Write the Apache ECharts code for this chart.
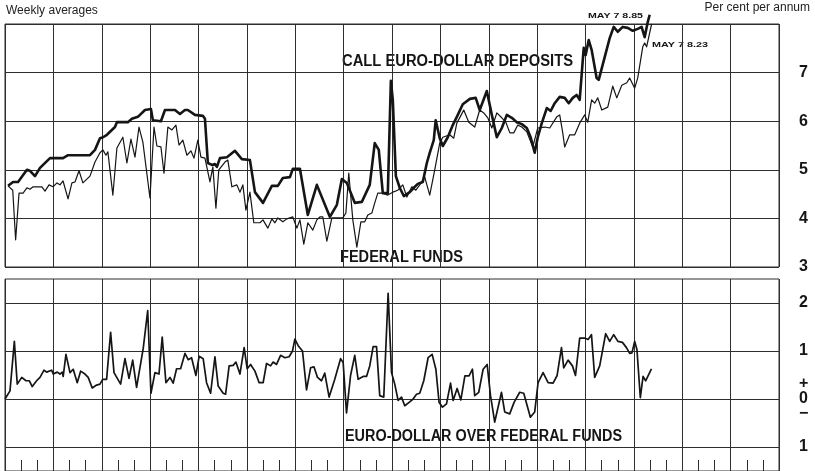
<!DOCTYPE html>
<html>
<head>
<meta charset="utf-8">
<script src="https://cdn.jsdelivr.net/npm/echarts@6/dist/echarts.min.js"></script>
<style>
  html, body { margin: 0; padding: 0; background: #fff; }
  #chart { width: 815px; height: 471px; }
</style>
</head>
<body>
<div id="chart"></div>
<script>
// x values are months counted from the start of January 1966 (weekly averages)
const euroMonths = [0.19,0.5,0.81,1.36,1.55,1.86,2.17,2.79,3.6,3.91,
  5.27,5.58,5.89,6.08,6.32,6.82,6.94,7.62,7.87,8.24,
  8.68,9.05,9.17,9.67,9.92,10.54,10.85,11.16,11.34,11.78,
  12.27,12.4,12.58,12.83,13.02,13.14,13.33,13.76,14.26,14.69,
  15.19,15.5,16,16.55,16.92,17.23,17.67,17.85,18.29,18.78,
  19.34,20.15,20.58,20.89,21.2,21.69,22.13,22.62,22.93,23.18,
  23.43,23.74,23.93,24.05,24.24,24.48,24.73,25.1,25.35,25.6,
  25.91,26.16,26.34,26.59,26.71,26.96,27.15,27.46,27.77,28.08,
  28.39,28.83,29.19,29.44,29.88,30.19,30.5,30.81,31.12,31.43,
  31.74,32.05,32.36,32.6,32.85,33.04,33.29,33.6,33.84,34.09,
  34.4,34.71,34.96,35.21,35.45,35.64,35.89,36.01,36.2,36.38,
  36.69,36.82,37.19,37.5,37.75,38,38.31,38.62,38.93,39.24,
  39.48,39.67,39.86,39.98];
const euroRates = [4.67,4.75,4.75,5.0,4.98,4.87,5.04,5.24,5.24,5.30,
  5.30,5.41,5.65,5.67,5.72,5.88,5.98,5.98,6.05,6.09,
  6.23,6.25,6.02,6.0,6.23,6.23,6.15,6.23,6.23,6.13,
  6.11,6.05,5.14,5.10,5.12,5.06,5.24,5.26,5.39,5.22,
  5.20,4.54,4.32,4.67,4.67,4.83,4.85,5.02,5.02,4.07,
  4.69,4.03,4.28,4.81,4.73,4.32,4.34,4.69,5.55,5.41,
  4.52,4.52,6.83,6.44,4.87,4.63,4.46,4.54,4.63,4.71,
  4.75,5.14,5.35,5.61,6.02,5.65,5.49,5.67,5.92,6.13,
  6.35,6.46,6.48,6.23,6.62,6.13,5.67,5.86,6.13,6.07,
  5.98,5.94,5.86,5.67,5.35,5.67,5.96,6.27,6.21,6.37,
  6.50,6.48,6.37,6.48,6.54,6.44,7.51,7.36,7.67,7.47,
  6.89,6.85,7.32,7.71,7.94,7.84,7.94,7.92,7.86,7.90,
  7.94,7.73,8.04,8.19];

const fedMonths = [0.19,0.48,0.66,0.87,1.12,1.36,1.55,1.74,2.29,2.48,
  2.73,2.98,3.22,3.41,3.6,3.91,4.15,4.34,4.59,4.83,
  5.27,5.58,5.89,6.07,6.26,6.38,6.69,6.94,7.31,7.56,
  7.81,8.06,8.31,8.55,8.99,9.24,9.42,9.67,9.86,10.1,
  10.35,10.6,10.79,11.03,11.28,11.53,11.72,11.96,12.15,12.4,
  12.71,12.89,13.08,13.26,13.64,13.82,14.07,14.38,14.57,14.75,
  14.94,15.19,15.43,15.81,16.0,16.3,16.55,16.74,16.92,17.23,
  17.48,17.85,18.1,18.29,18.53,18.78,19.09,19.34,19.53,19.71,
  19.96,20.27,20.95,21.14,21.32,21.57,21.82,22.07,22.31,22.5,
  22.75,22.93,23.12,23.43,23.74,24.05,24.36,24.67,24.92,25.23,
  25.48,25.72,26.03,26.34,26.65,26.96,27.15,27.58,27.83,28.02,
  28.26,28.45,28.76,29.13,29.44,29.69,29.94,30.19,30.5,30.81,
  31.06,31.31,31.55,31.8,32.05,32.36,32.73,33.04,33.48,33.78,
  34.22,34.4,34.59,34.71,35.02,35.33,35.64,35.95,36.14,36.38,
  36.57,36.76,37.01,37.38,37.69,37.94,38.25,38.56,38.74,39.05,
  39.24,39.55,39.67,39.79,40.1];
const fedRates = [4.67,4.58,3.56,4.52,4.52,4.63,4.60,4.65,4.65,4.56,
  4.69,4.65,4.73,4.69,4.77,4.40,4.73,4.75,4.98,4.73,
  4.87,5.16,5.35,5.41,5.30,5.37,4.48,5.45,5.67,5.14,
  5.63,5.26,5.88,5.57,4.42,5.88,5.49,5.47,4.93,5.88,
  5.82,5.92,5.51,5.61,5.30,5.39,5.24,5.61,5.26,5.24,
  4.75,5.06,4.21,5.0,5.16,5.20,4.65,4.69,4.54,4.69,
  4.17,4.54,3.91,3.91,3.97,3.80,3.99,3.91,4.01,3.93,
  3.99,4.03,3.80,3.97,3.47,3.91,3.76,3.97,4.03,4.03,
  3.53,4.01,4.01,4.11,4.93,3.97,3.41,3.93,3.93,4.07,
  4.11,4.32,4.52,4.52,4.48,4.54,4.58,4.69,4.44,4.65,
  4.58,4.69,4.85,4.48,5.0,5.55,5.67,5.72,5.65,5.96,
  6.11,6.23,5.98,5.88,6.23,6.17,6.07,5.86,6.17,6.07,
  5.98,5.76,5.76,5.92,5.88,5.78,5.47,5.86,5.88,5.86,
  6.09,6.13,5.76,5.47,5.72,5.72,5.96,6.13,5.98,6.44,
  6.37,6.48,6.23,6.29,6.72,6.48,6.74,6.79,6.89,6.68,
  6.89,7.53,7.61,7.53,8.0];

const spreadMonths = [0,0.31,0.58,0.76,1.04,1.30,1.51,1.69,1.96,2.17,
  2.42,2.58,2.89,2.99,3.24,3.41,3.55,3.61,3.78,4.03,
  4.23,4.48,4.69,4.96,5.16,5.41,5.68,5.89,6.06,6.3,
  6.55,6.76,7.17,7.44,7.69,7.92,8.16,8.57,8.85,9.05,
  9.3,9.55,9.75,9.98,10.23,10.43,10.64,10.89,11.16,11.36,
  11.57,11.84,12.04,12.29,12.5,12.75,13.02,13.22,13.53,13.68,
  13.9,14.15,14.32,14.57,14.83,15.02,15.23,15.5,15.76,16.01,
  16.22,16.47,16.63,16.84,17.09,17.36,17.62,17.83,17.98,18.18,
  18.45,18.7,18.95,19.16,19.38,19.63,19.83,20.1,20.45,20.81,
  20.97,21.18,21.43,21.69,21.9,22.21,22.42,22.62,22.83,23.04,
  23.24,23.49,23.76,23.97,24.17,24.38,24.59,24.79,25.1,25.31,
  25.52,25.72,25.97,26.24,26.49,26.72,26.92,27.13,27.38,27.63,
  27.79,28.04,28.27,28.52,28.78,28.99,29.13,29.38,29.65,29.9,
  30.11,30.37,30.79,30.99,31.3,31.57,31.92,32.17,32.44,32.58,
  32.85,33.06,33.37,33.68,33.99,34.24,34.51,34.65,34.92,35.19,
  35.38,35.64,35.95,36.16,36.37,36.57,36.88,37.25,37.5,37.75,
  38.01,38.29,38.54,38.74,38.88,39.05,39.19,39.4,39.57,39.73,
  40.09];
const spreadValues = [0.0,0.17,1.20,0.31,0.45,0.38,0.38,0.26,0.38,0.45,
  0.60,0.56,0.60,0.52,0.56,0.52,0.56,0.47,0.93,0.55,
  0.62,0.34,0.58,0.52,0.45,0.23,0.29,0.31,0.41,0.41,
  1.39,0.55,0.31,0.84,0.43,0.81,0.24,1.05,1.84,0.12,
  0.55,0.52,1.29,0.34,0.45,0.33,0.63,0.63,0.95,0.82,
  0.86,0.49,0.89,0.84,0.34,0.12,0.88,0.27,0.12,0.10,
  0.69,0.70,0.77,0.52,1.07,0.63,0.72,0.58,0.34,0.34,
  0.74,0.69,0.77,0.72,0.91,0.86,0.88,1.0,1.25,1.11,
  1.0,0.19,0.65,0.67,0.45,0.38,0.54,0.04,0.41,0.84,
  0.76,-0.29,0.49,0.91,0.41,0.47,0.47,0.69,1.09,1.09,
  0.07,0.04,2.20,0.55,0.31,-0.03,0.04,-0.14,-0.06,0.0,
  0.10,0.12,0.38,0.86,0.93,0.62,-0.07,-0.17,-0.10,0.33,
  -0.03,0.22,-0.02,0.48,0.48,0.62,0.07,0.14,0.62,0.72,
  0.07,-0.48,0.14,-0.27,-0.31,-0.07,0.14,0.12,-0.21,-0.38,
  -0.27,0.34,0.55,0.34,0.33,0.49,1.07,0.65,0.81,0.69,
  0.49,1.27,1.27,1.24,1.34,0.45,0.69,1.36,1.20,1.34,
  1.20,1.18,1.07,0.95,0.96,1.20,1.03,0.03,0.47,0.38,
  0.63];

// right-hand tick labels
const rateLabels = { 3: '3', 4: '4', 5: '5', 6: '6', 7: '7' };
const spreadLabels = { 2: '2', 1: '1', 0: '+\n0\n\u2212', '-1': '1' };

function pairs(xs, ys) {
  return xs.map((x, i) => [x, ys[i]]);
}

const ink = '#151515';
const gridInk = '#2e2e2e';
const boldFont = 'bold 16px "Liberation Sans", Arial, sans-serif';
const smallFont = 'bold 8px "Liberation Sans", Arial, sans-serif';

// squeeze labels horizontally to the width they take in the original
const measure = document.createElement('canvas').getContext('2d');
function squeeze(text, font, width) {
  measure.font = font;
  return width / measure.measureText(text).width;
}

function label(text, font, x, y, width) {
  return {
    type: 'text', x: x, y: y, scaleX: squeeze(text, font, width), silent: true,
    style: { text: text, font: font, fill: ink, textAlign: 'left', textVerticalAlign: 'middle' }
  };
}

const chart = echarts.init(document.getElementById('chart'), null, { renderer: 'canvas' });

const option = {
  animation: false,
  backgroundColor: '#fff',
  grid: [
    { left: 5, top: 24, width: 774, height: 243, show: true, borderColor: gridInk, borderWidth: 1 },
    { left: 5, top: 279, width: 774, height: 193.5, show: true, borderColor: gridInk, borderWidth: 1 }
  ],
  xAxis: [
    {
      gridIndex: 0, type: 'value', min: 0, max: 48, interval: 3,
      axisLine: { show: false, onZero: false }, axisTick: { show: false }, axisLabel: { show: false },
      splitLine: { show: true, lineStyle: { color: gridInk, width: 1 } }
    },
    {
      gridIndex: 1, type: 'value', min: 0, max: 48, interval: 3, position: 'bottom',
      axisLine: { show: false, onZero: false }, axisLabel: { show: false },
      axisTick: { show: true, inside: true, length: 11, lineStyle: { color: gridInk } },
      minorTick: { show: true, splitNumber: 3, length: 11, lineStyle: { color: gridInk, width: 1 } },
      splitLine: { show: true, lineStyle: { color: gridInk, width: 1 } }
    }
  ],
  yAxis: [
    {
      gridIndex: 0, type: 'value', position: 'right', min: 3, max: 8, interval: 1,
      axisLine: { show: false }, axisTick: { show: false },
      axisLabel: {
        margin: 20, color: ink, fontSize: 16, fontWeight: 'bold', fontFamily: '"Liberation Sans", Arial',
        formatter: v => rateLabels[v] || ''
      },
      splitLine: { show: true, lineStyle: { color: gridInk, width: 1 } }
    },
    {
      gridIndex: 1, type: 'value', position: 'right', min: -1.5, max: 2.5, interval: 0.5,
      axisLine: { show: false }, axisTick: { show: false },
      axisLabel: {
        margin: 20, color: ink, fontSize: 16, fontWeight: 'bold', fontFamily: '"Liberation Sans", Arial',
        lineHeight: 15,
        formatter: v => spreadLabels[v] || ''
      },
      splitLine: { show: true, lineStyle: { color: ['rgba(0,0,0,0)', gridInk], width: 1 } }
    }
  ],
  series: [
    {
      name: 'Call Euro-dollar deposits', type: 'line', xAxisIndex: 0, yAxisIndex: 0,
      data: pairs(euroMonths, euroRates), showSymbol: false, clip: false, z: 4,
      lineStyle: { color: ink, width: 2.6, join: 'round' }
    },
    {
      name: 'Federal funds', type: 'line', xAxisIndex: 0, yAxisIndex: 0,
      data: pairs(fedMonths, fedRates), showSymbol: false, clip: false, z: 3,
      lineStyle: { color: ink, width: 1.2, join: 'round' }
    },
    {
      name: 'Euro-dollar over Federal funds', type: 'line', xAxisIndex: 1, yAxisIndex: 1,
      data: pairs(spreadMonths, spreadValues), showSymbol: false, z: 3,
      lineStyle: { color: ink, width: 1.7, join: 'round' }
    }
  ],
  graphic: [
    {
      type: 'text', left: 6, top: 5, silent: true,
      style: { text: 'Weekly averages', font: '12px "Liberation Sans", Arial, sans-serif', fill: '#222' }
    },
    {
      type: 'text', right: 5, top: 2, silent: true,
      style: { text: 'Per cent per annum', font: '12px "Liberation Sans", Arial, sans-serif', fill: '#222' }
    },
    label('CALL EURO-DOLLAR DEPOSITS', boldFont, 342, 62, 231),
    label('FEDERAL FUNDS', boldFont, 340, 258, 123),
    label('EURO-DOLLAR OVER FEDERAL FUNDS', boldFont, 345, 437, 277),
    label('MAY 7 8.85', smallFont, 588, 16, 55),
    label('MAY 7 8.23', smallFont, 652, 45, 56)
  ]
};

chart.setOption(option);
</script>
</body>
</html>
